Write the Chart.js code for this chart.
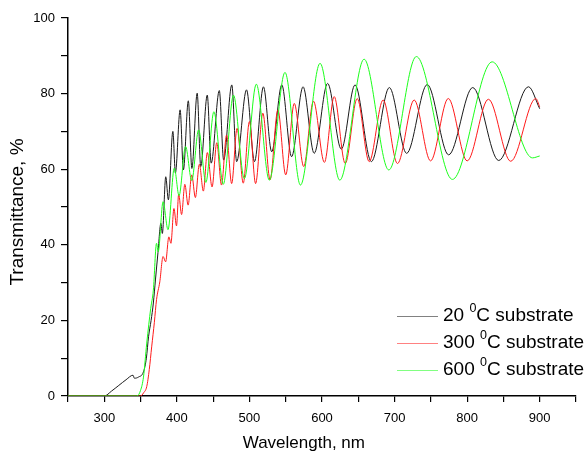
<!DOCTYPE html>
<html><head><meta charset="utf-8">
<script src="https://cdn.jsdelivr.net/npm/chart.js@4.4.1/dist/chart.umd.min.js"></script>
<style>html,body{margin:0;padding:0;background:#fff;}#wrap{width:585px;height:459px;}</style>
</head><body>
<div id="wrap"><canvas id="c" width="585" height="459"></canvas></div>
<script>
// ---- data ----
const xTitle = 'Wavelength, nm';
const yTitle = 'Transmittance, %';
const temps = ['20', '300', '600'];
const legendSup = '0';
const legendSuffix = 'C substrate';
const colors = ['#1a1a1a', '#ff1a1a', '#1aff1a'];

const blackX = [250,300,310,320,330,339.6,341.5,347,354,358,361,364.5,367.6,370.5,374,378,380,384.7,388.3,394.5,398,404.5,409,415.8,420.7,428,432.9,441.9,447.3,458.5,464.5,475.7,482.4,496,507,519.3,530.7,544.6,558.1,573.9,589.2,607.7,626.6,645.5,668,692.8,716.6,745,774.5,807.7,843.5,884.5,900];
const blackY = [0,0,1.3,2.8,4.3,5.5,4.7,5,6.4,10,15.7,20,24.6,30.7,38,45.7,43,58,51.9,70,59,75.7,59.8,78.1,60.2,80.1,60.7,79.6,61.6,80.8,62.4,82.3,62,81,62,81.8,64.6,82.3,63.3,81.8,64.2,82.7,65.3,82.3,62,81.6,64.2,82.4,63.8,81.6,62.3,81.8,76];

const redX = [250,350,354,358.5,362,365.3,369,372,376.5,381,384.5,389,391.8,396,399.5,402.5,406.5,411,415.5,420.5,425.5,431,436.5,442,448.5,455,461.5,468.5,475.5,483,491.5,500,508.5,518.5,528.4,539.2,550,561.8,574.8,588.2,603.3,616.8,632,648.5,665,684.2,704,727,749.6,774,800,829.3,860,894.6,900];
const redY = [0,0,0.8,2.5,7,13,19.5,25.5,30.2,36.9,35.5,42.1,40.4,49.6,45,53.4,48,56,50.5,58.5,52.5,61.3,54.2,64.4,55.3,67,55.8,69,56.2,70.8,56.3,72.6,56.2,74.8,57.2,75.7,58.5,77.4,60.7,78,61.8,79.2,61.5,78.7,62,78.3,61.5,78.3,62.2,78.7,62.2,78.5,62.1,78.7,76.5];

const greenX = [250,345,350,354,358.5,364,367.6,372,374.3,381,387.8,396.5,403,412,420.5,430,440,451,464,478,493,509.5,527.4,549,570.3,597.3,624.5,658,692,730,779.7,834.5,890,900];
const greenY = [0,0,1.5,5,14,23.2,28,40.4,38.2,51.4,44,60.3,53,66,57,70.4,56.5,75.2,56,79.6,57.5,82.5,57.1,85.6,55.8,88,57.1,89.1,59.8,89.8,57.3,88.4,63,63.5];

const xMin = 250, xMax = 950, xStep = 50;
const yMin = 0, yMax = 100, yStep = 10;

function pts(xs, ys){ return xs.map((x,i)=>({x:x, y:ys[i]})); }

const FONT = '"Liberation Sans", Arial, Helvetica, sans-serif';
Chart.defaults.font.family = FONT;
Chart.defaults.font.size = 13;
Chart.defaults.color = '#000';

const overlay = {
  id: 'overlay',
  afterDraw(chart){
    const ctx = chart.ctx;
    const xs = chart.scales.x;
    ctx.save();
    ctx.fillStyle = '#000';
    ctx.textBaseline = 'middle';
    // x title
    ctx.font = '17px ' + FONT;
    ctx.textAlign = 'center';
    ctx.fillText(xTitle, (xs.getPixelForValue(250) + xs.getPixelForValue(900)) / 2, 443);
    // y title
    ctx.save();
    ctx.translate(18, 212);
    ctx.rotate(-Math.PI/2);
    ctx.font = '19px ' + FONT;
    ctx.fillText(yTitle, 0, 0);
    ctx.restore();
    // legend
    ctx.textAlign = 'left';
    for (let i = 0; i < temps.length; i++) {
      const y = 316 + i * 27;
      ctx.strokeStyle = colors[i];
      ctx.globalAlpha = 0.55;
      ctx.lineWidth = 1;
      ctx.beginPath(); ctx.moveTo(397, y + 0.5); ctx.lineTo(438, y + 0.5); ctx.stroke();
      ctx.globalAlpha = 1;
      let tx = 443;
      ctx.font = '19px ' + FONT;
      const a = temps[i] + ' ';
      ctx.fillText(a, tx, y); tx += ctx.measureText(a).width;
      ctx.font = '12.5px ' + FONT;
      ctx.fillText(legendSup, tx, y - 7); tx += ctx.measureText(legendSup).width;
      ctx.font = '19px ' + FONT;
      ctx.fillText(legendSuffix, tx, y);
    }
    ctx.restore();
  }
};

new Chart(document.getElementById('c'), {
  type: 'line',
  data: {
    datasets: [
      {label: temps[0] + ' °C substrate', data: pts(blackX, blackY), borderColor: colors[0], order: 2},
      {label: temps[1] + ' °C substrate', data: pts(redX, redY), borderColor: colors[1], order: 1},
      {label: temps[2] + ' °C substrate', data: pts(greenX, greenY), borderColor: colors[2], order: 0}
    ]
  },
  options: {
    responsive: false,
    animation: false,
    parsing: false,
    layout: {padding: {top: 18, right: 0, left: 0, bottom: 0}},
    elements: {
      point: {radius: 0},
      line: {borderWidth: 1, cubicInterpolationMode: 'monotone', fill: false}
    },
    plugins: {legend: {display: false}, tooltip: {enabled: false}},
    scales: {
      x: {
        type: 'linear', min: xMin, max: xMax,
        afterFit(s){ s.height = 63; },
        border: {display: true, color: '#000', width: 1.5},
        grid: {drawOnChartArea: false, drawTicks: true, tickLength: 6, color: '#000', lineWidth: 1.2},
        ticks: {stepSize: xStep, autoSkip: false, maxRotation: 0, padding: 9,
          font: {size: 13},
          callback: v => (v % 100 === 0 && v >= 300 && v <= 900) ? String(v) : ''}
      },
      y: {
        type: 'linear', min: yMin, max: yMax,
        afterFit(s){ s.width = 68; },
        border: {display: true, color: '#000', width: 1.5},
        grid: {drawOnChartArea: false, drawTicks: true, tickLength: 7, color: '#000', lineWidth: 1.2},
        ticks: {stepSize: yStep, autoSkip: false, padding: 6, font: {size: 13},
          callback: v => (v % 20 === 0) ? String(v) : ''}
      }
    }
  },
  plugins: [overlay]
});
</script>
</body></html>
